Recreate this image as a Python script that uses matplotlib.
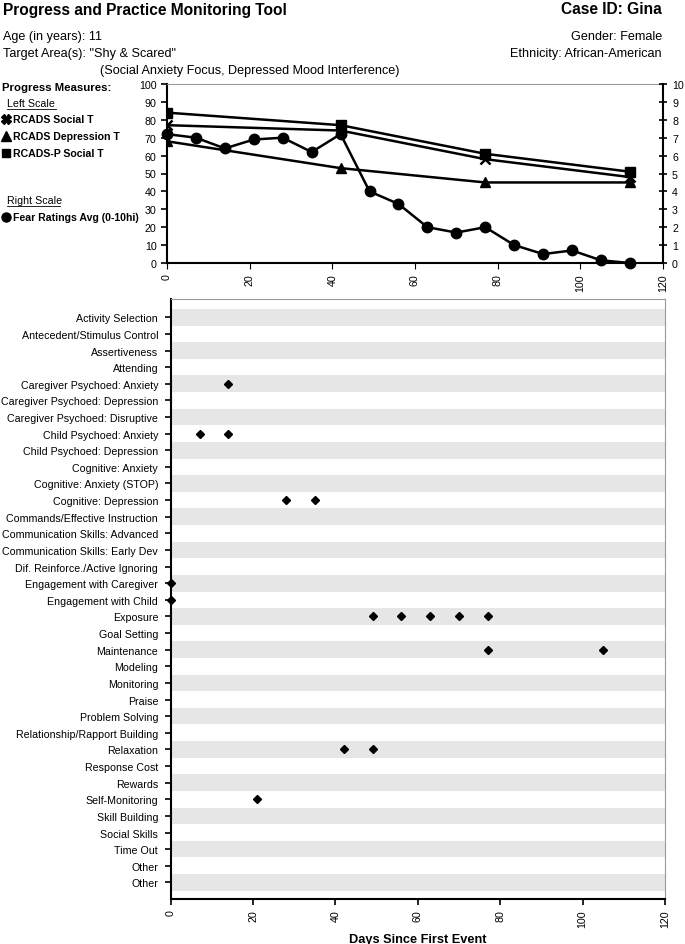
import matplotlib
matplotlib.use("Agg")
import matplotlib.pyplot as plt
import numpy as np

plt.rcParams['font.family'] = ['Liberation Sans', 'DejaVu Sans']

# ---------------- data ----------------
measure_days = [0, 42, 77, 112]
rcads_social = [77, 74, 58, 48]
rcads_depression = [68, 53, 45, 45]
rcadsp_social = [84, 77, 61, 51]

fear_days = [0, 7, 14, 21, 28, 35, 42, 49, 56, 63, 70, 77, 84, 91, 98, 105, 112]
fear_ratings = [7.2, 7.0, 6.4, 6.9, 7.0, 6.2, 7.2, 4.0, 3.3, 2.0, 1.7, 2.0, 1.0, 0.5, 0.7, 0.15, 0.0]

practices = [
    "Activity Selection", "Antecedent/Stimulus Control", "Assertiveness", "Attending",
    "Caregiver Psychoed: Anxiety", "Caregiver Psychoed: Depression",
    "Caregiver Psychoed: Disruptive", "Child Psychoed: Anxiety",
    "Child Psychoed: Depression", "Cognitive: Anxiety", "Cognitive: Anxiety (STOP)",
    "Cognitive: Depression", "Commands/Effective Instruction",
    "Communication Skills: Advanced", "Communication Skills: Early Dev",
    "Dif. Reinforce./Active Ignoring", "Engagement with Caregiver",
    "Engagement with Child", "Exposure", "Goal Setting", "Maintenance", "Modeling",
    "Monitoring", "Praise", "Problem Solving", "Relationship/Rapport Building",
    "Relaxation", "Response Cost", "Rewards", "Self-Monitoring", "Skill Building",
    "Social Skills", "Time Out", "Other", "Other",
]
practice_events = {
    "Caregiver Psychoed: Anxiety": [14],
    "Child Psychoed: Anxiety": [7, 14],
    "Cognitive: Depression": [28, 35],
    "Engagement with Caregiver": [0],
    "Engagement with Child": [0],
    "Exposure": [49, 56, 63, 70, 77],
    "Maintenance": [77, 105],
    "Relaxation": [42, 49],
    "Self-Monitoring": [21],
}
x_ticks = [0, 20, 40, 60, 80, 100, 120]

# ---------------- figure ----------------
W, H = 685, 945
fig = plt.figure(figsize=(W / 100, H / 100), dpi=100)

def fx(px):
    return px / W

def fy(py):
    return 1 - py / H

# Overlay for header text in pixel coords
ov = fig.add_axes([0, 0, 1, 1])
ov.set_xlim(0, W)
ov.set_ylim(H, 0)
ov.axis('off')

ov.text(3, 10, "Progress and Practice Monitoring Tool", fontsize=11.2, fontweight='bold', va='center', ha='left')
ov.text(662, 10, "Case ID: Gina", fontsize=11.2, fontweight='bold', va='center', ha='right')
ov.text(3, 37, "Age (in years): 11", fontsize=9.1, va='center', ha='left')
ov.text(662, 37, "Gender: Female", fontsize=9.1, va='center', ha='right')
ov.text(3, 54, 'Target Area(s): "Shy & Scared"', fontsize=9.1, va='center', ha='left')
ov.text(662, 54, "Ethnicity: African-American", fontsize=9.1, va='center', ha='right')
ov.text(100, 71, "(Social Anxiety Focus, Depressed Mood Interference)", fontsize=9.1, va='center', ha='left')

ov.text(2, 88, "Progress Measures:", fontsize=8.2, fontweight='bold', va='center', ha='left')
ov.text(7, 104, "Left Scale", fontsize=7.7, va='center', ha='left')
ov.plot([7, 56], [110, 110], color='black', lw=0.6)
legend_items = [("X", "RCADS Social T", 120), ("^", "RCADS Depression T", 137), ("s", "RCADS-P Social T", 154)]
for mk, lab, yy in legend_items:
    ov.plot([6], [yy], marker=mk, color='black', markersize=6.5 if mk != 's' else 6, linestyle='none')
    ov.text(13, yy, lab, fontsize=7.6, fontweight='bold', va='center', ha='left')
ov.text(7, 201, "Right Scale", fontsize=7.7, va='center', ha='left')
ov.plot([7, 60], [207, 207], color='black', lw=0.6)
ov.plot([6], [218], marker='o', color='black', markersize=6.5, linestyle='none')
ov.text(13, 218, "Fear Ratings Avg (0-10hi)", fontsize=7.6, fontweight='bold', va='center', ha='left')

# ---------------- top chart ----------------
ax1 = fig.add_axes([fx(167), fy(264), fx(663) - fx(167), fy(85) - fy(264)])
ax1.set_xlim(0, 120)
ax1.set_ylim(0, 100)
ax1.plot(measure_days, rcads_social, color='black', lw=1.8, marker='x', markersize=7, mew=1.8)
ax1.plot(measure_days, rcads_depression, color='black', lw=1.8, marker='^', markersize=7.5)
ax1.plot(measure_days, rcadsp_social, color='black', lw=1.8, marker='s', markersize=7.5)
ax1.set_yticks(np.arange(0, 101, 10))
ax1.set_xticks(x_ticks)
ax1.tick_params(axis='x', labelrotation=90, labelsize=7.7, direction='out', length=4)
ax1.tick_params(axis='y', labelsize=7.7, direction='out', length=4, width=1.2)
for s in ['left', 'bottom']:
    ax1.spines[s].set_linewidth(1.5)
ax1.spines['top'].set_color('#999999')
ax1.spines['right'].set_visible(False)

ax2 = ax1.twinx()
ax2.set_ylim(0, 10)
ax2.set_yticks(np.arange(0, 11, 1))
ax2.plot(fear_days, fear_ratings, color='black', lw=1.8, marker='o', markersize=7.5, clip_on=False, zorder=5)
ax2.tick_params(axis='y', labelsize=7.7, direction='inout', length=6, width=1.2)
ax2.spines['right'].set_linewidth(1.5)
for s in ['left', 'bottom', 'top']:
    ax2.spines[s].set_visible(False)

# ---------------- bottom chart ----------------
n = len(practices)
ax3 = fig.add_axes([fx(170.7), fy(900), fx(665) - fx(170.7), fy(300) - fy(900)])
ax3.set_xlim(0, 120)
ax3.set_ylim(n, -1.1)
for i in range(0, n, 2):
    ax3.axhspan(i - 0.5, i + 0.5, color='#e6e6e6', lw=0, zorder=0)
for i, p in enumerate(practices):
    days = practice_events.get(p, [])
    if days:
        ax3.plot(days, [i] * len(days), linestyle='none', marker='D', markersize=4.2,
                 color='black', clip_on=False, zorder=5)
ax3.set_yticks(range(n))
ax3.set_yticklabels(practices)
ax3.set_xticks(x_ticks)
ax3.tick_params(axis='x', labelrotation=90, labelsize=7.7, direction='out', length=4, width=1.2)
ax3.tick_params(axis='y', labelsize=7.7, direction='out', length=4, width=1.2, pad=5)
for s in ['left', 'bottom']:
    ax3.spines[s].set_linewidth(1.5)
ax3.spines['top'].set_color('#999999')
ax3.spines['right'].set_color('#999999')
ax3.set_xlabel("Days Since First Event", fontsize=9.2, fontweight='bold', labelpad=4)

fig.savefig("out.png", dpi=100)
